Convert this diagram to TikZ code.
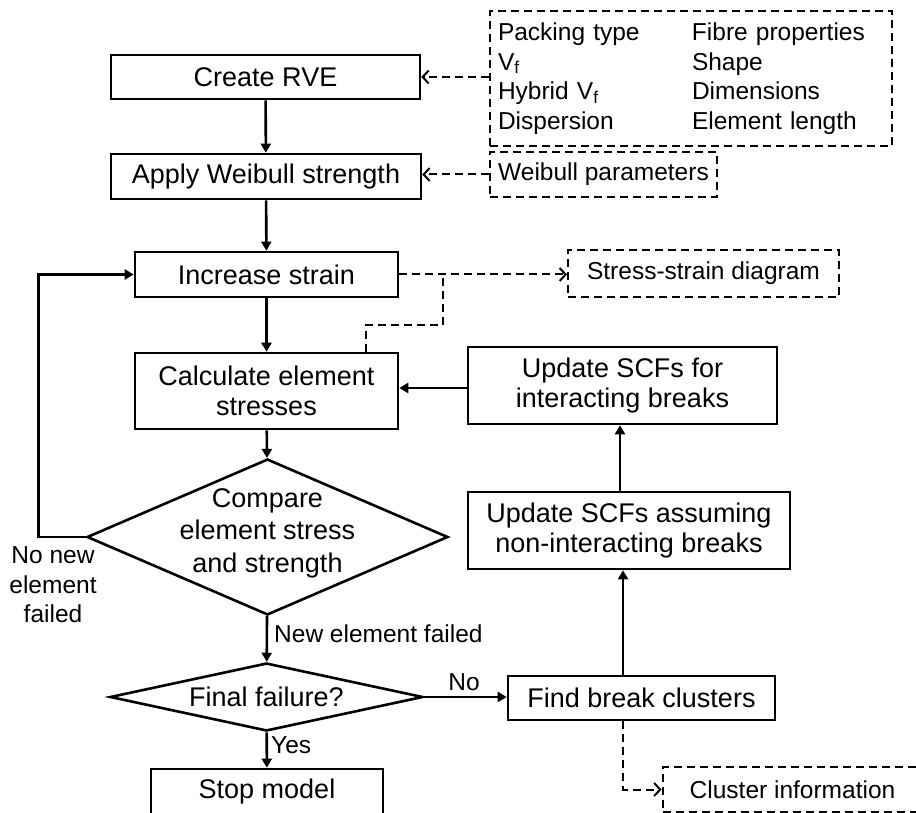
\documentclass[tikz,border=0pt]{standalone}
\usepackage{fontspec}
\setmainfont{Liberation Sans}
\usetikzlibrary{shapes.geometric,arrows.meta}
\newcommand\boxfont{\fontsize{27}{30}\selectfont}
\newcommand\diafont{\fontsize{27}{32.5}\selectfont}
\newcommand\labfont{\fontsize{24.5}{29.5}\selectfont}
\tikzset{
  procbox/.style={draw, line width=2.6pt, inner sep=0pt, align=center, font=\boxfont},
  auxbox/.style={draw, line width=2pt, dash pattern=on 8pt off 5pt, inner sep=0pt, align=center, font=\labfont},
  decide/.style={draw, line width=2.6pt, diamond, inner sep=0pt},
  dtext/.style={align=center, font=\diafont, inner sep=0pt},
  lab/.style={font=\labfont, inner sep=0pt, align=center},
  arr/.style={line width=2.6pt, -{Triangle[length=9pt,width=10pt]}},
  darr/.style={line width=2pt, dash pattern=on 8pt off 5pt, -{Straight Barb[length=6pt,width=13pt]}},
  dline/.style={line width=2pt, dash pattern=on 8pt off 5pt},
}
\begin{document}
\begin{tikzpicture}[x=1pt,y=-1pt]
\useasboundingbox (0,0) rectangle (916,813);
\clip (0,0) rectangle (916,813);
% main column
\node[procbox, minimum width=309pt, minimum height=44pt] (rve) at (265.5,77) {Create RVE};
\node[procbox, minimum width=310pt, minimum height=45pt] (weib) at (266,176.5) {Apply Weibull strength};
\node[procbox, minimum width=263pt, minimum height=45pt] (inc) at (266.5,274.5) {Increase strain};
\node[procbox, minimum width=263pt, minimum height=76pt] (calc) at (266.5,391) {Calculate element\\stresses};
\node[decide, minimum width=361pt, minimum height=156pt] (cmp) at (267.5,537) {};
\node[dtext] (cmpt) at (267.5,533) {Compare\\element stress\\and strength};
\node[decide, minimum width=313pt, minimum height=68pt] (ff) at (266.5,697) {};
\node[dtext] (fft) at (266.5,697) {Final failure?};
\node[procbox, minimum width=232pt, minimum height=46pt] (stop) at (267,792) {Stop model};
% right column
\node[procbox, minimum width=309pt, minimum height=77pt] (upI) at (622.5,385.5) {Update SCFs for\\interacting breaks};
\node[procbox, minimum width=322pt, minimum height=77pt] (upN) at (629,530.5) {Update SCFs assuming\\non-interacting breaks};
\node[procbox, minimum width=267pt, minimum height=44pt] (find) at (641.5,698) {Find break clusters};
% auxiliary dashed boxes
\node[auxbox, minimum width=402pt, minimum height=135pt, text width=386pt, inner xsep=8pt, align=left] (params) at (691,78.5)
  {\makebox[194pt][l]{Packing type}Fibre properties\\
   \makebox[194pt][l]{V\textsubscript{f}}Shape\\
   \makebox[194pt][l]{Hybrid V\textsubscript{f}}Dimensions\\
   \makebox[194pt][l]{Dispersion}Element length};
\node[auxbox, minimum width=227pt, minimum height=45pt] (wpar) at (603.5,174.5) {Weibull parameters};
\node[auxbox, minimum width=271pt, minimum height=47pt] (ss) at (703.5,273.5) {Stress-strain diagram};
\node[auxbox, minimum width=260pt, minimum height=45pt] (clus) at (792.5,789.5) {Cluster information};
% helper coordinates
\coordinate (vx) at (623,0);
\coordinate (vx2) at (620,0);
\coordinate (hy) at (0,388);
\coordinate (bx) at (366,325);
\coordinate (by) at (443,325);
% solid connectors
\draw[arr] (rve) -- (weib);
\draw[arr] (weib) -- (inc);
\draw[arr] (inc) -- (calc);
\draw[arr] (calc) -- (cmp);
\draw[arr] (cmp) -- (ff);
\draw[arr] (ff) -- (stop);
\draw[arr] (ff.east) -- (ff.east -| find.west);
\draw[arr] (find.north -| vx) -- (upN.south -| vx);
\draw[arr] (upN.north -| vx2) -- (upI.south -| vx2);
\draw[arr] (upI.west |- hy) -- (calc.east |- hy);
\draw[arr] (cmp.west) -- ++(-47,0) |- (inc.west);
% dashed connectors
\draw[darr] (params.west |- rve.east) -- (rve.east);
\draw[darr] (wpar.west) -- (wpar.west -| weib.east);
\draw[darr] (inc.east) -- (inc.east -| ss.west);
\draw[dline] (calc.north -| bx) -- (bx) -- (by) -- (by |- inc.east);
\draw[darr] (find.south -| vx) |- (clus.west);
% labels
\node[lab, anchor=west] (lnew) at (274,634) {New element failed};
\node[lab, anchor=west] (lyes) at (271,745) {Yes};
\node[lab] (lno) at (464,682) {No};
\node[lab] (lnonew) at (53,585) {No new\\element\\failed};
\end{tikzpicture}
\end{document}
